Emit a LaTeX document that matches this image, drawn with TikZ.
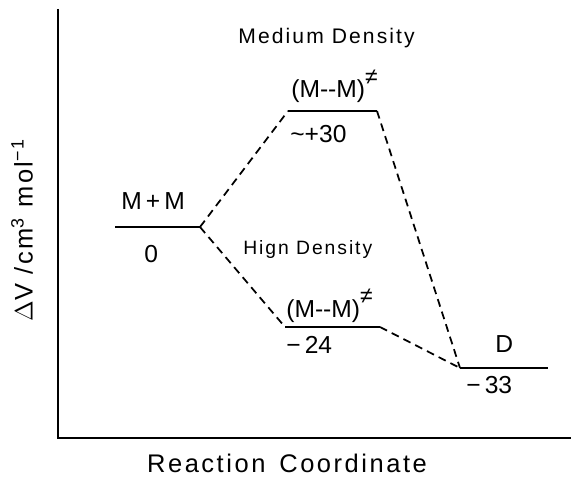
\documentclass[tikz,border=0pt]{standalone}
\usepackage{fontspec}
\setmainfont{Liberation Sans}
\newfontfamily\spacedfont[LetterSpace=10]{Liberation Sans}
\usetikzlibrary{positioning,calc}
\newcommand{\tsmark}{\raisebox{1.05ex}{\fontsize{13}{13}\selectfont ≠}}
\tikzset{
  % Energy levels
  lvl/.style={line width=1.3pt},
  % Dashed pathways
  path/.style={line width=1pt,dash pattern=on 4.5pt off 3pt},
  % Axes
  axis/.style={line width=1.1pt},
  % Labels
  spec/.style={font=\fontsize{14}{16}\selectfont,inner sep=0pt,anchor=base west},
  val/.style={font=\fontsize{14}{16}\selectfont,inner sep=0pt,anchor=base west},
  note/.style={font=\spacedfont\fontsize{12}{14}\selectfont,inner sep=0pt,anchor=base west},
  axlab/.style={font=\spacedfont\fontsize{14.5}{16}\selectfont,inner sep=0pt}
}
\begin{document}
\begin{tikzpicture}[x=0.02cm,y=-0.02cm]
  \useasboundingbox (0,0) rectangle (571,479);

  % --- Axes ---
  \coordinate (top)    at (58,9);
  \coordinate (origin) at (58,438);
  \coordinate (xend)   at (571,438);
  \draw[axis] (top) -- (origin) -- (xend);
  \node[axlab,rotate=90] (ylab) at (22,230) {$\Delta$V /cm\textsuperscript{3} mol\textsuperscript{−1}};
  \node[axlab,anchor=base] (xlab) at (287,472) {Reaction\, Coordinate};

  % --- Level end points ---
  \coordinate (mmL)  at (115,227); \coordinate (mmR)  at (200,227);
  \coordinate (tsmL) at (288,111); \coordinate (tsmR) at (377,111);
  \coordinate (tshL) at (285,327); \coordinate (tshR) at (380,327);
  \coordinate (dL)   at (460,368); \coordinate (dR)   at (548,368);

  % --- Levels ---
  \draw[lvl] (mmL)  -- (mmR);
  \draw[lvl] (tsmL) -- (tsmR);
  \draw[lvl] (tshL) -- (tshR);
  \draw[lvl] (dL)   -- (dR);

  % --- Labels ---
  \node[spec] (mm)    at (121,210) {M\,+\,M};
  \node[val]  (mm0)   at (144,263) {0};
  \node[spec] (tsm)   at (291,98)  {(M-{}-M)\tsmark};
  \node[val]  (tsm30) at (290,143) {\textasciitilde+30};
  \node[spec] (tsh)   at (286,317) {(M-{}-M)\tsmark};
  \node[val]  (tsh24) at (286,354) {−\,24};
  \node[spec] (d)     at (495,353) {D};
  \node[val]  (d33)   at (466,393) {−\,33};

  \node[note] (med)  at (238,44)  {Medium Density};
  \node[note,font=\spacedfont\fontsize{11}{13}\selectfont] (high) at (243,255) {Hign Density};

  % --- Pathways ---
  \draw[path] (mmR)  -- (tsmL);
  \draw[path] (tsmR) -- (dL);
  \draw[path] (mmR)  -- (tshL);
  \draw[path] (tshR) -- (dL);
\end{tikzpicture}
\end{document}
